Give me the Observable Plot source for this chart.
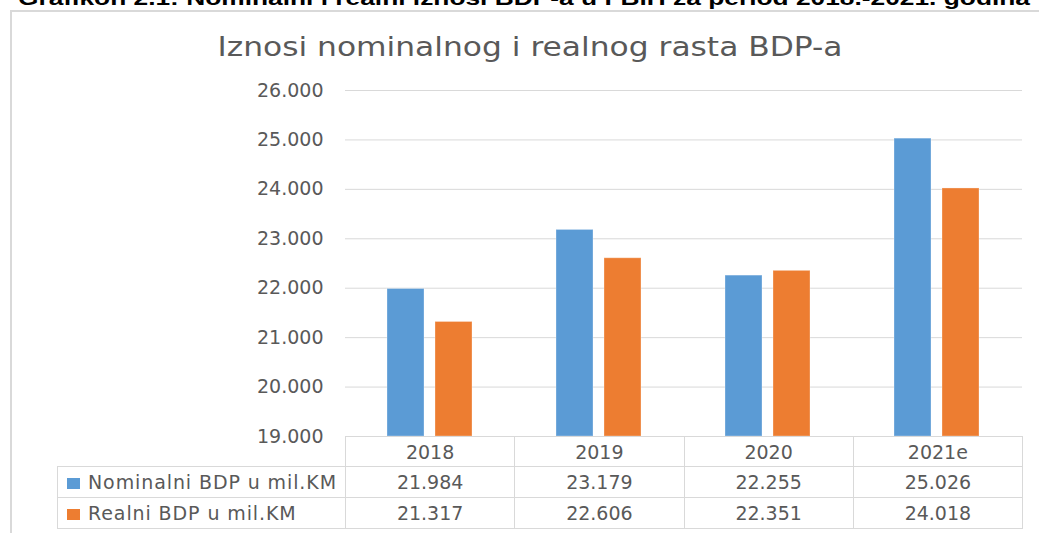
<!DOCTYPE html>
<html>
<head>
<meta charset="utf-8">
<script src="https://cdn.jsdelivr.net/npm/d3@7"></script>
<script src="https://cdn.jsdelivr.net/npm/@observablehq/plot@0.6"></script>
<style>
  body { margin: 0; background: #fff; overflow: hidden; }
  #wrap { position: relative; width: 1039px; height: 533px; overflow: hidden; font-family: "DejaVu Sans", sans-serif; }
  #frame { position: absolute; left: 10px; top: 10px; width: 1200px; height: 700px; border: 2px solid #d9d9d9; box-sizing: border-box; }
  .layer { position: absolute; left: 0; top: 0; }
  #tbl { position: absolute; left: 57px; top: 436px; border-collapse: collapse; table-layout: fixed; color: #595959; font-size: 19px; }
  #tbl td { border: 1px solid #d9d9d9; padding: 0; text-align: center; white-space: nowrap; }
  #tbl td.blank { border: none; }
  #tbl td.leg { text-align: left; padding-left: 9px; letter-spacing: 0.9px; }
  #tbl .sw { display: inline-block; width: 13px; height: 11px; margin-right: 8px; vertical-align: 0px; }
</style>
</head>
<body>
<div id="wrap">
  <div id="frame"></div>
</div>
<script>
const caption = "Grafikon 2.1: Nominalni i realni iznosi BDP-a u FBiH za period 2018.-2021. godina";
const chartTitle = "Iznosi nominalnog i realnog rasta BDP-a";
const years = ["2018", "2019", "2020", "2021e"];
const seriesNames = ["Nominalni BDP u mil.KM", "Realni BDP u mil.KM"];
const nominal = [21984, 23179, 22255, 25026];
const real = [21317, 22606, 22351, 24018];
const yTicks = [19000, 20000, 21000, 22000, 23000, 24000, 25000, 26000];
const colors = ["#5b9bd5", "#ed7d31"];

const fmt = d => d3.format(",")(d).replace(/,/g, ".");
const seriesValues = [nominal, real];
const rows = [];
seriesNames.forEach((s, i) => years.forEach((y, j) => rows.push({year: y, series: s, value: seriesValues[i][j]})));

const wrap = document.getElementById("wrap");

// caption + title texts
const ns = "http://www.w3.org/2000/svg";
const tsvg = document.createElementNS(ns, "svg");
tsvg.setAttribute("width", 1039); tsvg.setAttribute("height", 80);
tsvg.setAttribute("class", "layer");
const cap = document.createElementNS(ns, "text");
cap.setAttribute("x", 18); cap.setAttribute("y", 5);
cap.setAttribute("font-family", "Liberation Sans, Arial, sans-serif");
cap.setAttribute("font-weight", "bold"); cap.setAttribute("font-size", 20);
cap.setAttribute("textLength", 1012); cap.setAttribute("lengthAdjust", "spacingAndGlyphs");
cap.setAttribute("fill", "#000");
cap.textContent = caption;
tsvg.appendChild(cap);
const tt = document.createElementNS(ns, "text");
tt.setAttribute("x", 530); tt.setAttribute("y", 56);
tt.setAttribute("text-anchor", "middle");
tt.setAttribute("font-family", "DejaVu Sans, sans-serif");
tt.setAttribute("font-size", 26);
tt.setAttribute("textLength", 625); tt.setAttribute("lengthAdjust", "spacingAndGlyphs");
tt.setAttribute("fill", "#595959");
tt.textContent = chartTitle;
tsvg.appendChild(tt);

const common = {
  width: 1039, height: 460,
  marginLeft: 345, marginRight: 17, marginTop: 90, marginBottom: 24,
  style: {background: "transparent", color: "#595959", fontFamily: "DejaVu Sans, sans-serif", fontSize: "19px", overflow: "visible"}
};

// background: grid + y axis
const bg = Plot.plot({
  ...common,
  y: {domain: [19000, 26000]},
  marks: [
    Plot.gridY(yTicks, {stroke: "#d9d9d9", strokeOpacity: 1, strokeWidth: 1}),
    Plot.axisY(yTicks, {tickSize: 0, tickPadding: 22, tickFormat: fmt, fontSize: 19})
  ]
});
bg.setAttribute("class", "layer");

// foreground: grouped bars
const fg = Plot.plot({
  ...common,
  fx: {domain: years, paddingInner: 0.49, paddingOuter: 0.245, axis: null},
  x: {domain: seriesNames, paddingInner: 0.22, paddingOuter: 0, axis: null},
  y: {domain: [19000, 26000], axis: null},
  color: {domain: seriesNames, range: colors},
  marks: [
    Plot.barY(rows, {fx: "year", x: "series", y1: 19000, y2: "value", fill: "series", stroke: "#ffffff", strokeOpacity: 0.3, strokeWidth: 1})
  ]
});
fg.setAttribute("class", "layer");

wrap.appendChild(tsvg);
wrap.appendChild(bg);
wrap.appendChild(fg);

// data table
const table = d3.select(wrap).append("table").attr("id", "tbl");
const cg = table.append("colgroup");
cg.append("col").style("width", "288px");
years.forEach(() => cg.append("col").style("width", "169.25px"));
const head = table.append("tr").style("height", "30px");
head.append("td").attr("class", "blank");
years.forEach(y => head.append("td").text(y));
seriesNames.forEach((s, i) => {
  const tr = table.append("tr").style("height", "31px");
  const lc = tr.append("td").attr("class", "leg");
  lc.append("span").attr("class", "sw").style("background", colors[i]);
  lc.append("span").text(s);
  seriesValues[i].forEach(v => tr.append("td").text(fmt(v)));
});
</script>
</body>
</html>
